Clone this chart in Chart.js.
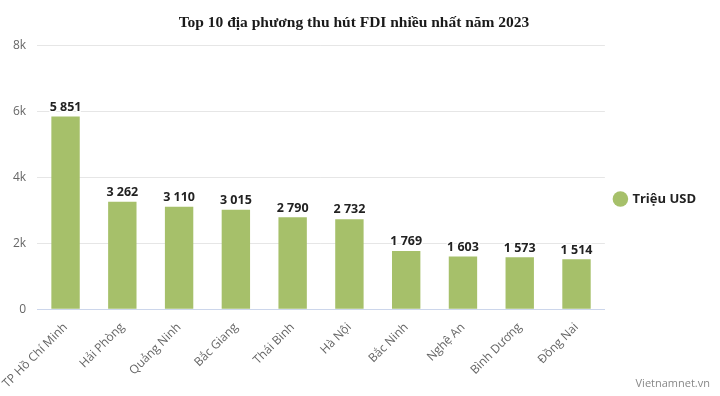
<!DOCTYPE html>
<html>
<head>
<meta charset="utf-8">
<script src="https://cdn.jsdelivr.net/npm/chart.js@4"></script>
<style>
  html, body { margin: 0; padding: 0; background: #fff; }
  #wrap { position: relative; width: 720px; height: 396px; }
  #credit { position: absolute; right: 10px; bottom: 6px; font: 11px "Open Sans", sans-serif; color: #888; }
</style>
</head>
<body>
<div id="wrap">
  <canvas id="chart" width="720" height="396"></canvas>
  <div id="credit">Vietnamnet.vn</div>
</div>
<script>
// provinces, in order shown
var provinces = ['TP Hồ Chí Minh', 'Hải Phòng', 'Quảng Ninh', 'Bắc Giang', 'Thái Bình',
                 'Hà Nội', 'Bắc Ninh', 'Nghệ An', 'Bình Dương', 'Đồng Nai'];
// FDI attracted, million USD
var fdiValues = [5851, 3262, 3110, 3015, 2790, 2732, 1769, 1603, 1573, 1514];
var seriesName = 'Triệu USD';
var yTicks = [0, 2000, 4000, 6000, 8000];

// space as thousands separator, like "5 851"
function fmt(v) {
    return String(v).replace(/\B(?=(\d{3})+(?!\d))/g, ' ');
}

// draws the value above each bar
var valueLabels = {
    id: 'valueLabels',
    afterDatasetsDraw: function (chart) {
        var ctx = chart.ctx;
        var meta = chart.getDatasetMeta(0);
        ctx.save();
        ctx.font = 'bold 12.5px "Open Sans", sans-serif';
        ctx.textAlign = 'center';
        ctx.textBaseline = 'bottom';
        ctx.lineJoin = 'round';
        meta.data.forEach(function (bar, i) {
            var txt = fmt(fdiValues[i]);
            ctx.lineWidth = 3;
            ctx.strokeStyle = '#fff';
            ctx.strokeText(txt, bar.x, bar.y - 3);
            ctx.fillStyle = '#222';
            ctx.fillText(txt, bar.x, bar.y - 3);
        });
        ctx.restore();
    }
};

var ctx = document.getElementById('chart').getContext('2d');
var chart = new Chart(ctx, {
    type: 'bar',
    data: {
        labels: provinces,
        datasets: [{
            label: seriesName,
            data: fdiValues,
            backgroundColor: '#a6c06a',
            barPercentage: 1,
            categoryPercentage: 0.5
        }]
    },
    options: {
        responsive: false,
        animation: false,
        layout: { padding: { left: 2, right: 14, top: 4, bottom: 2 } },
        plugins: {
            title: {
                display: true,
                text: 'Top 10 địa phương thu hút FDI nhiều nhất năm 2023',
                font: { family: '"Liberation Serif", serif', size: 15.5, weight: 'bold' },
                color: '#1a1a1a',
                padding: { top: 10, bottom: 13 }
            },
            legend: {
                position: 'right',
                labels: {
                    usePointStyle: true,
                    pointStyle: 'circle',
                    boxWidth: 11,
                    boxHeight: 11,
                    padding: 10,
                    color: '#222',
                    font: { family: '"Open Sans", sans-serif', size: 13, weight: 'bold' }
                }
            },
            tooltip: { enabled: false }
        },
        scales: {
            y: {
                min: 0,
                max: 8000,
                afterBuildTicks: function (axis) {
                    axis.ticks = yTicks.map(function (v) { return { value: v }; });
                },
                ticks: {
                    color: '#666',
                    font: { family: '"Open Sans", sans-serif', size: 12 },
                    padding: 11,
                    callback: function (v) { return v === 0 ? '0' : (v / 1000) + 'k'; }
                },
                grid: { color: '#e6e6e6', drawTicks: false },
                border: { display: false }
            },
            x: {
                ticks: {
                    color: '#666',
                    font: { family: '"Open Sans", sans-serif', size: 12 },
                    minRotation: 45,
                    maxRotation: 45,
                    autoSkip: false
                },
                grid: { display: false },
                border: { color: '#ccd6eb' }
            }
        }
    },
    plugins: [valueLabels]
});
</script>
</body>
</html>
